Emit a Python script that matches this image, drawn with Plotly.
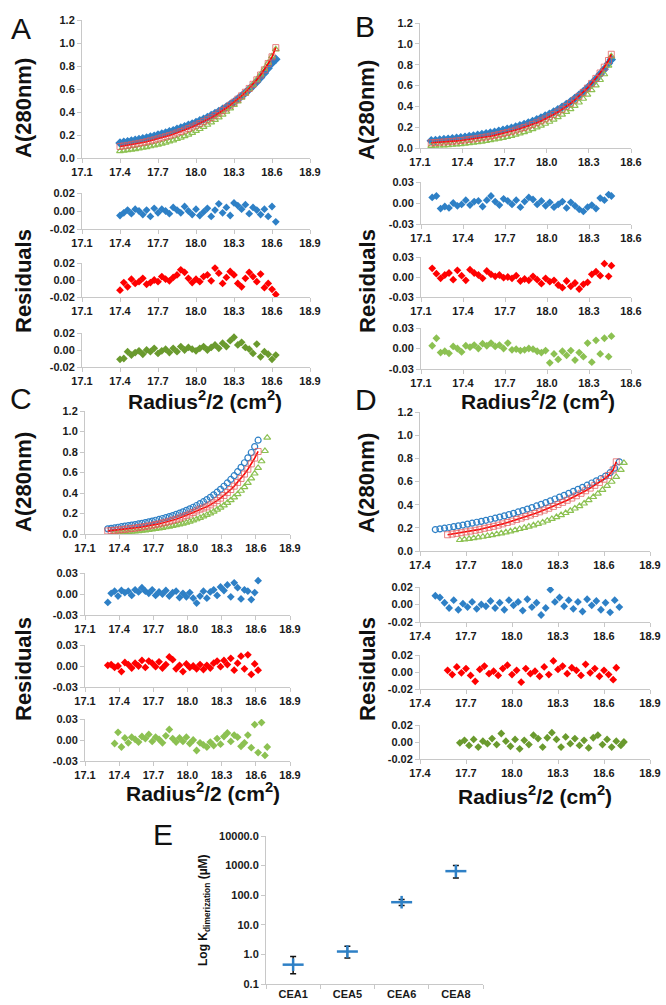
import plotly.graph_objects as go

W, H = 666, 1005

# ---------------- data ----------------
# panel A (one radius grid shared by all three scans)
a_x = [17.40, 17.43, 17.46, 17.49, 17.52, 17.55, 17.58, 17.61, 17.64, 17.67, 17.70, 17.73, 17.76, 17.79,
       17.82, 17.85, 17.88, 17.91, 17.94, 17.97, 18.00, 18.03, 18.06, 18.09, 18.12, 18.15, 18.18, 18.21,
       18.24, 18.27, 18.30, 18.33, 18.36, 18.39, 18.42, 18.45, 18.48, 18.51, 18.54, 18.57, 18.60, 18.63]
a_blue = [.130, .136, .142, .148, .154, .160, .167, .174, .182, .190, .199, .208, .218, .228,
          .238, .249, .260, .272, .284, .296, .309, .323, .338, .353, .369, .386, .404, .423,
          .443, .465, .488, .513, .539, .567, .597, .629, .663, .700, .739, .781, .826, .858]
a_red = [.100, .105, .110, .116, .122, .128, .135, .142, .150, .158, .167, .176, .186, .196,
         .207, .218, .230, .243, .256, .270, .285, .300, .316, .333, .351, .370, .390, .412,
         .435, .459, .485, .512, .541, .572, .605, .641, .680, .722, .767, .822, .880, .960]
a_green = [.060, .064, .068, .073, .078, .083, .089, .095, .102, .109, .117, .125, .134, .144,
           .154, .165, .177, .190, .204, .219, .235, .252, .270, .289, .309, .331, .354, .378,
           .404, .432, .461, .492, .525, .560, .598, .638, .681, .727, .776, .828, .884, .945]
a_res_blue = [-0.005, -0.002, 0.001, -0.003, 0.002, 0.000, -0.004, 0.001, -0.006, 0.003, -0.002, 0.002, 0.000, -0.003,
              0.004, 0.001, -0.002, 0.005, 0.000, -0.004, 0.002, -0.005, -0.001, 0.003, -0.006, 0.001, 0.008, -0.002,
              0.004, -0.005, 0.009, 0.006, 0.002, 0.007, -0.003, 0.004, 0.001, -0.004, 0.002, -0.006, 0.005, -0.012]
a_res_red = [-0.012, -0.003, -0.008, 0.001, -0.004, -0.002, 0.002, -0.005, -0.003, 0.000, -0.002, 0.004, 0.001, -0.001,
             0.003, 0.006, 0.012, 0.009, 0.002, -0.003, 0.001, -0.002, 0.004, 0.006, -0.001, 0.014, 0.008, -0.004,
             0.003, 0.010, 0.006, -0.004, -0.008, 0.002, 0.009, 0.004, -0.002, 0.007, -0.009, -0.004, -0.011, -0.017]
a_res_green = [-0.011, -0.010, -0.002, -0.006, -0.003, -0.001, -0.005, 0.000, -0.002, 0.002, -0.004, -0.001, 0.001, -0.003,
               0.002, -0.002, 0.004, 0.000, 0.003, 0.001, -0.001, 0.002, 0.004, 0.000, 0.003, 0.006, 0.002, 0.008,
               0.004, 0.011, 0.015, 0.006, 0.009, 0.003, 0.001, -0.004, 0.007, -0.008, -0.002, -0.005, -0.011, -0.006]

# panel B
b_x = [17.18, 17.21, 17.24, 17.27, 17.30, 17.33, 17.36, 17.39, 17.42, 17.45, 17.48, 17.51, 17.54, 17.57, 17.60,
       17.63, 17.66, 17.69, 17.72, 17.75, 17.78, 17.81, 17.84, 17.87, 17.90, 17.93, 17.96, 17.99, 18.02, 18.05,
       18.08, 18.11, 18.14, 18.17, 18.20, 18.23, 18.26, 18.29, 18.32, 18.35, 18.38, 18.41, 18.44, 18.46]
b_blue = [.070, .073, .077, .081, .085, .089, .094, .099, .104, .110, .116, .122, .129, .136, .144,
          .152, .161, .170, .180, .190, .201, .213, .226, .240, .255, .271, .288, .306, .325, .346,
          .368, .392, .418, .445, .474, .506, .540, .577, .617, .660, .707, .757, .812, .850]
b_red = [.050, .052, .055, .058, .061, .064, .068, .072, .077, .082, .087, .093, .099, .106, .113,
         .121, .130, .139, .149, .160, .172, .184, .197, .211, .226, .242, .260, .279, .299, .321,
         .345, .371, .399, .429, .461, .496, .534, .575, .620, .668, .720, .776, .840, .900]
b_green = [.020, .022, .024, .026, .028, .031, .034, .038, .042, .046, .051, .056, .062, .068, .075,
           .082, .090, .098, .107, .117, .128, .140, .153, .167, .182, .198, .215, .233, .252, .273,
           .296, .320, .346, .374, .404, .437, .473, .512, .555, .602, .653, .708, .790, .880]
b_res_blue = [0.008, 0.010, -0.008, -0.005, -0.007, 0.000, -0.004, -0.002, 0.004, -0.003, 0.002, 0.003, -0.005, 0.004, 0.010,
              0.002, -0.003, 0.006, 0.003, -0.002, 0.004, -0.006, 0.002, 0.008, 0.005, -0.002, 0.003, -0.004, 0.001, -0.006,
              -0.002, 0.002, -0.007, 0.001, -0.004, -0.009, -0.012, -0.006, -0.003, -0.008, 0.007, 0.004, 0.012, 0.010]
b_res_red = [0.013, 0.005, -0.002, 0.003, 0.006, -0.004, 0.010, 0.002, -0.005, 0.011, 0.006, 0.003, -0.002, 0.009, 0.004,
             0.001, 0.003, -0.001, 0.000, -0.002, 0.002, -0.006, -0.003, -0.005, 0.001, -0.004, -0.010, -0.002, -0.007, -0.005,
             -0.012, -0.016, -0.006, -0.014, -0.009, -0.018, -0.011, -0.008, 0.004, 0.008, 0.002, 0.020, 0.001, 0.017]
b_res_green = [0.004, 0.015, -0.006, -0.004, -0.007, 0.003, 0.000, -0.005, 0.004, 0.002, 0.005, 0.000, 0.007, 0.004, 0.008,
               0.003, 0.005, 0.000, 0.008, -0.002, -0.001, -0.003, -0.002, 0.000, -0.001, -0.004, -0.006, -0.003, -0.021, -0.008,
               -0.016, -0.004, -0.010, -0.003, -0.017, -0.006, -0.012, 0.008, -0.020, 0.012, -0.008, 0.015, -0.012, 0.018]

# panel C
c_x = [17.30, 17.33, 17.36, 17.39, 17.42, 17.45, 17.48, 17.51, 17.54, 17.57, 17.60, 17.63, 17.66, 17.69, 17.72,
       17.75, 17.78, 17.81, 17.84, 17.87, 17.90, 17.93, 17.96, 17.99, 18.02, 18.05, 18.08, 18.11, 18.14, 18.17,
       18.20, 18.23, 18.26, 18.29, 18.32, 18.35, 18.38, 18.41, 18.44, 18.47, 18.50, 18.53, 18.56, 18.59, 18.62]
c_gx = [17.36, 17.39, 17.42, 17.45, 17.48, 17.51, 17.54, 17.57, 17.60, 17.63, 17.66, 17.69, 17.72, 17.75, 17.78,
        17.81, 17.84, 17.87, 17.90, 17.93, 17.96, 17.99, 18.02, 18.05, 18.08, 18.11, 18.14, 18.17, 18.20, 18.23,
        18.26, 18.29, 18.32, 18.35, 18.38, 18.41, 18.44, 18.47, 18.50, 18.53, 18.56, 18.59, 18.62, 18.65, 18.68, 18.70]
c_blue = [.050, .055, .060, .066, .071, .076, .081, .087, .092, .098, .104, .111, .118, .126, .134,
          .142, .151, .160, .170, .180, .191, .203, .216, .230, .245, .261, .278, .296, .315, .336,
          .358, .382, .408, .436, .466, .498, .532, .569, .608, .650, .695, .743, .795, .852, .915]
c_red = [.030, .033, .036, .039, .042, .046, .050, .054, .058, .063, .068, .073, .079, .085, .092,
         .099, .107, .115, .124, .134, .144, .155, .167, .180, .194, .209, .225, .242, .253, .265,
         .284, .304, .326, .350, .376, .404, .434, .467, .503, .542, .585, .632, .684, .741, .805]
c_green = [.010, .012, .014, .016, .019, .022, .025, .028, .032, .036, .040, .045, .050, .055, .060,
           .066, .072, .079, .086, .094, .102, .111, .121, .132, .144, .157, .171, .186, .202, .219,
           .238, .258, .280, .304, .330, .358, .389, .422, .458, .498, .542, .590, .645, .710, .810, .940]
c_res_blue = [-0.012, 0.001, 0.004, -0.003, 0.005, 0.002, 0.004, -0.002, 0.006, 0.003, 0.009, 0.004, 0.001, 0.006, -0.002,
              0.003, 0.000, 0.005, -0.003, 0.002, 0.004, -0.005, 0.001, -0.004, 0.002, -0.006, -0.013, -0.003, 0.004, -0.006,
              0.003, 0.006, -0.002, 0.010, 0.005, 0.013, -0.004, 0.016, 0.009, -0.007, 0.006, 0.004, -0.008, 0.002, 0.019]
c_res_red = [0.001, 0.002, -0.002, 0.000, -0.008, 0.005, 0.002, -0.003, 0.004, 0.000, 0.008, -0.002, 0.007, 0.004, -0.001,
             0.006, -0.003, 0.002, 0.013, 0.009, -0.004, 0.001, -0.008, 0.003, -0.002, 0.000, -0.004, 0.002, -0.005, 0.001,
             -0.003, 0.004, 0.007, -0.001, 0.008, 0.002, 0.011, -0.006, 0.004, 0.014, -0.004, 0.016, -0.012, 0.003, -0.006]
c_res_green = [-0.005, 0.011, -0.010, 0.003, -0.004, 0.004, 0.001, -0.003, 0.005, 0.002, 0.008, -0.002, 0.004, 0.001, -0.004,
               0.006, 0.015, 0.002, -0.003, 0.003, -0.002, 0.004, -0.005, 0.000, -0.015, -0.004, -0.007, -0.010, -0.003, -0.008,
               0.002, -0.006, 0.005, 0.010, -0.002, 0.007, 0.004, -0.009, -0.004, 0.007, -0.011, 0.022, -0.018, 0.025, -0.022, -0.010]

# panel D
d_bx = [17.50, 17.53, 17.56, 17.59, 17.62, 17.65, 17.68, 17.71, 17.74, 17.77, 17.80, 17.83, 17.86, 17.89,
        17.92, 17.95, 17.98, 18.01, 18.04, 18.07, 18.10, 18.13, 18.16, 18.19, 18.22, 18.25, 18.28, 18.31,
        18.34, 18.37, 18.40, 18.43, 18.46, 18.49, 18.52, 18.55, 18.58, 18.61, 18.64, 18.67, 18.70]
d_rx = [17.58, 17.61, 17.64, 17.67, 17.70, 17.73, 17.76, 17.79, 17.82, 17.85, 17.88, 17.91, 17.94, 17.97,
        18.00, 18.03, 18.06, 18.09, 18.12, 18.15, 18.18, 18.21, 18.24, 18.27, 18.30, 18.33, 18.36, 18.39,
        18.42, 18.45, 18.48, 18.51, 18.54, 18.57, 18.60, 18.63, 18.66, 18.68]
d_gx = [17.66, 17.69, 17.72, 17.75, 17.78, 17.81, 17.84, 17.87, 17.90, 17.93, 17.96, 17.99, 18.02, 18.05,
        18.08, 18.11, 18.14, 18.17, 18.20, 18.23, 18.26, 18.29, 18.32, 18.35, 18.38, 18.41, 18.44, 18.47,
        18.50, 18.53, 18.56, 18.59, 18.62, 18.65, 18.68, 18.71, 18.73]
d_blue = [.185, .191, .197, .203, .210, .217, .224, .232, .240, .248, .256, .265, .274, .283,
          .293, .303, .314, .325, .337, .349, .362, .375, .389, .403, .418, .433, .449, .465,
          .481, .498, .515, .532, .550, .568, .587, .606, .626, .647, .676, .715, .770]
d_red = [.140, .146, .152, .158, .165, .172, .179, .187, .196, .204, .213, .223, .234, .246,
         .258, .272, .284, .297, .310, .324, .338, .353, .369, .385, .402, .420, .438, .457,
         .477, .498, .520, .543, .567, .592, .620, .652, .700, .770]
d_green = [.095, .100, .105, .111, .117, .123, .130, .137, .145, .153, .161, .170, .180, .190,
           .200, .211, .222, .234, .246, .262, .277, .293, .310, .328, .347, .367, .388, .410,
           .440, .466, .495, .528, .562, .598, .640, .700, .760]
d_res_blue = [0.010, 0.008, 0.002, -0.004, 0.005, -0.006, 0.001, -0.003, 0.003, -0.005, 0.000, -0.002, 0.004, -0.004,
              0.002, -0.006, 0.005, -0.001, 0.003, -0.007, 0.006, -0.003, 0.002, -0.012, -0.004, 0.017, 0.003, 0.008,
              -0.002, 0.005, -0.005, 0.003, -0.008, 0.006, -0.001, 0.004, -0.006, 0.002, -0.009, 0.005, -0.003]
d_res_red = [0.002, -0.003, 0.006, -0.001, 0.004, -0.004, -0.011, 0.003, 0.007, -0.002, 0.001, -0.004, 0.004, 0.008,
             -0.003, 0.002, -0.012, 0.004, -0.002, 0.001, -0.005, 0.006, -0.003, 0.013, 0.003, 0.007, -0.002, 0.005,
             0.002, -0.004, 0.009, -0.001, 0.004, -0.005, 0.002, -0.003, -0.009, 0.005]
d_res_green = [-0.001, 0.002, -0.004, 0.003, -0.006, 0.001, -0.002, 0.004, -0.003, 0.010, 0.001, -0.005, 0.003, -0.008,
               0.002, -0.003, 0.008, 0.004, -0.006, 0.005, 0.011, 0.003, -0.006, 0.006, -0.002, 0.004, -0.004, 0.002,
               -0.007, 0.005, 0.008, -0.003, 0.003, -0.006, 0.001, -0.004, 0.000]

# panel E
e_cats = ["CEA1", "CEA5", "CEA6", "CEA8"]
e_kd = [0.45, 1.25, 58, 650]
e_err_up = [0.40, 0.65, 14, 350]
e_err_dn = [0.23, 0.50, 13, 270]
e_ticks = [0.1, 1, 10, 100, 1000, 10000]
e_ticktext = ["0.1", "1.0", "10.0", "100.0", "1000.0", "10000.0"]

ticks_171 = [17.1, 17.4, 17.7, 18.0, 18.3, 18.6, 18.9]
ticks_186 = [17.1, 17.4, 17.7, 18.0, 18.3, 18.6]
ticks_174 = [17.4, 17.7, 18.0, 18.3, 18.6, 18.9]
abs_ticks = [0.0, 0.2, 0.4, 0.6, 0.8, 1.0, 1.2]
res02 = [-0.02, 0.0, 0.02]
res02_txt = ["-0.02", "0.00", "0.02"]
res03 = [-0.03, 0.0, 0.03]
res03_txt = ["-0.03", "0.00", "0.03"]

# ---------------- figure ----------------
BLUE = "#2e80c6"
RED = "#ff0000"
LGREEN = "#8cc152"
DGREEN = "#6a9a2e"
AXC = "#c8c8c8"
FONT = "Liberation Sans"
tick_font = dict(family=FONT, size=11, color="#1a1a1a")


def bold(items):
    return ["<b>%s</b>" % t for t in items]


fig = go.Figure()
n_axes = [0]


def add_axes(box, xticks, yticks, ytext=None):
    n_axes[0] += 1
    s = "" if n_axes[0] == 1 else str(n_axes[0])
    common = dict(showline=True, linecolor=AXC, linewidth=1, ticks="outside", ticklen=4,
                  tickcolor=AXC, showgrid=False, zeroline=False, tickfont=tick_font)
    ypad = (yticks[-1] - yticks[0]) * 1e-6
    xpad = (xticks[-1] - xticks[0]) * 1e-6
    fig.update_layout(**{
        "xaxis" + s: dict(domain=[box[0] / W, box[1] / W], range=[xticks[0] - xpad, xticks[-1] + xpad],
                          tickvals=xticks, ticktext=bold(["%.1f" % t for t in xticks]), anchor="y" + s, **common),
        "yaxis" + s: dict(domain=[1 - box[3] / H, 1 - box[2] / H], range=[yticks[0] - ypad, yticks[-1] + ypad],
                          tickvals=yticks, ticktext=bold(ytext or ["%.1f" % t for t in yticks]),
                          anchor="x" + s, **common),
    })
    return "x" + s, "y" + s


def main_plot(box, xticks, series, blue_sym):
    xa, ya = add_axes(box, xticks, abs_ticks)
    (bx, by), (rx, ry), (gx, gy) = series
    fig.add_trace(go.Scatter(x=bx, y=by, mode="markers", xaxis=xa, yaxis=ya,
                             marker=dict(symbol=blue_sym, size=6, color=BLUE, line=dict(color=BLUE, width=1.2))))
    fig.add_trace(go.Scatter(x=gx, y=gy, mode="markers", xaxis=xa, yaxis=ya,
                             marker=dict(symbol="triangle-up-open", size=6, color=LGREEN, line=dict(width=1.2))))
    fig.add_trace(go.Scatter(x=rx, y=ry, mode="lines+markers", xaxis=xa, yaxis=ya,
                             line=dict(color=RED, width=1.6),
                             marker=dict(symbol="square-open", size=6, color="rgba(225,90,90,0.75)",
                                         line=dict(width=1))))


def resid_plot(box, xticks, yticks, ytext, x, y, color):
    xa, ya = add_axes(box, xticks, yticks, ytext)
    fig.add_trace(go.Scatter(x=x, y=y, mode="markers", xaxis=xa, yaxis=ya,
                             marker=dict(symbol="diamond", size=6, color=color, line=dict(width=0))))


# A
main_plot((82, 310, 20, 158), ticks_171, [(a_x, a_blue), (a_x, a_red), (a_x, a_green)], "diamond")
resid_plot((82, 310, 193, 229), ticks_171, res02, res02_txt, a_x, a_res_blue, BLUE)
resid_plot((82, 310, 263, 297), ticks_171, res02, res02_txt, a_x, a_res_red, RED)
resid_plot((82, 310, 333, 367), ticks_171, res02, res02_txt, a_x, a_res_green, DGREEN)

# B
main_plot((420, 631, 23, 148), ticks_186, [(b_x, b_blue), (b_x, b_red), (b_x, b_green)], "diamond")
resid_plot((421, 631, 182, 224), ticks_186, res03, res03_txt, b_x, b_res_blue, BLUE)
resid_plot((421, 631, 257, 297), ticks_186, res03, res03_txt, b_x, b_res_red, RED)
resid_plot((421, 631, 328, 369), ticks_186, res03, res03_txt, b_x, b_res_green, LGREEN)

# C
main_plot((85, 290, 411, 534), ticks_171, [(c_x, c_blue), (c_x, c_red), (c_gx, c_green)], "circle-open")
resid_plot((85, 290, 573, 615), ticks_171, res03, res03_txt, c_x, c_res_blue, BLUE)
resid_plot((85, 290, 645, 687), ticks_171, res03, res03_txt, c_x, c_res_red, RED)
resid_plot((85, 290, 719, 761), ticks_171, res03, res03_txt, c_gx, c_res_green, LGREEN)

# D
main_plot((420, 650, 412, 551), ticks_174, [(d_bx, d_blue), (d_rx, d_red), (d_gx, d_green)], "circle-open")
resid_plot((420, 650, 587, 622), ticks_174, res02, res02_txt, d_bx, d_res_blue, BLUE)
resid_plot((420, 650, 655, 689), ticks_174, res02, res02_txt, d_rx, d_res_red, RED)
resid_plot((420, 650, 725, 759), ticks_174, res02, res02_txt, d_gx, d_res_green, DGREEN)

# E
fig.update_layout(
    xaxis17=dict(domain=[266 / W, 483 / W], type="category", range=[-0.5, 3.5], anchor="y17",
                 tickvals=e_cats, ticktext=bold(e_cats),
                 showline=True, linecolor=AXC, ticks="outside", ticklen=4, tickcolor=AXC,
                 tickson="boundaries", showgrid=False, zeroline=False, tickfont=tick_font),
    yaxis17=dict(domain=[1 - 984 / H, 1 - 836 / H], type="log", range=[-1, 4], anchor="x17",
                 tickvals=e_ticks, ticktext=bold(e_ticktext), showline=True, linecolor=AXC,
                 ticks="outside", ticklen=4, tickcolor=AXC, showgrid=False, zeroline=False,
                 tickfont=tick_font),
)
fig.add_trace(go.Scatter(x=e_cats, y=e_kd, mode="markers", xaxis="x17", yaxis="y17",
                         marker=dict(symbol="line-ew", size=15, color=BLUE, line=dict(color=BLUE, width=2.5)),
                         error_y=dict(type="data", array=e_err_up, arrayminus=e_err_dn, color="#111",
                                      thickness=1.5, width=3)))
fig.add_trace(go.Scatter(x=e_cats, y=e_kd, mode="markers", xaxis="x17", yaxis="y17",
                         marker=dict(symbol="line-ns", size=9, color=BLUE, line=dict(color=BLUE, width=2.5))))


def label(text, x, y, size, angle=0, weight="bold"):
    fig.add_annotation(text=text, x=x / W, y=1 - y / H, xref="paper", yref="paper", showarrow=False,
                       textangle=angle, xanchor="center", yanchor="middle",
                       font=dict(family=FONT, size=size, color="#111", weight=weight))


for letter, lx, ly in [("A", 21, 28), ("B", 365, 27), ("C", 21, 398), ("D", 366, 400), ("E", 163, 834)]:
    label(letter, lx, ly, 30, weight="normal")

xtitle = "Radius<sup>2</sup>/2 (cm<sup>2</sup>)"
for tx, ty in [(205, 400), (538, 400), (203, 792), (535, 795)]:
    label(xtitle, tx, ty, 21)
for tx, ty in [(23, 108), (367, 110), (23, 482), (367, 483)]:
    label("A(280nm)", tx, ty, 22, angle=-90)
for tx, ty in [(23, 281), (367, 281), (23, 669), (367, 669)]:
    label("Residuals", tx, ty, 22, angle=-90)
label("Log K<sub>dimerization</sub> (µM)", 204, 910, 12, angle=-90)

fig.update_layout(width=W, height=H, margin=dict(l=0, r=0, t=0, b=0, autoexpand=False), showlegend=False,
                  paper_bgcolor="white", plot_bgcolor="white", font=dict(family=FONT))
# the page body has a default 8px margin; drop it so the figure fills the window
fig.write_html("out.html", config={"displayModeBar": False},
               post_script="document.body.style.margin='0';document.body.style.overflow='hidden';")
